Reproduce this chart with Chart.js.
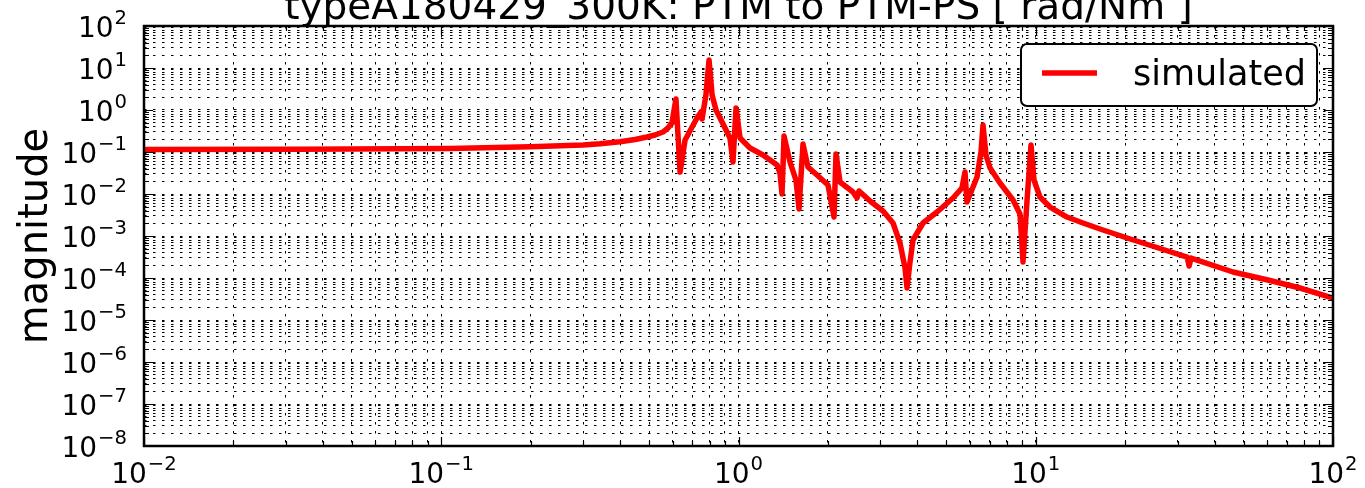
<!DOCTYPE html>
<html>
<head>
<meta charset="utf-8">
<script src="https://cdn.jsdelivr.net/npm/chart.js@4.4.0/dist/chart.umd.min.js"></script>
<style>
  html, body { margin: 0; padding: 0; background: #fff; }
  #wrap { position: relative; width: 1365px; height: 488px; }
</style>
</head>
<body>
<div id="wrap"><canvas id="magChart" width="1365" height="488"></canvas></div>
<script>
// frequency response, PTM -> PTM-PS
const freqs = [
  0.01, 0.0335, 0.107, 0.199, 0.300, 0.342, 0.399, 0.449, 0.492, 0.524,
  0.557, 0.579, 0.597, 0.616, 0.636, 0.661, 0.725, 0.748, 0.754, 0.777,
  0.796, 0.815, 0.840, 0.901, 0.936, 0.958, 0.981, 1.012, 1.093, 1.209,
  1.348, 1.379, 1.401, 1.423, 1.49, 1.561, 1.598, 1.648, 1.713, 1.837,
  2.0, 2.096, 2.128, 2.195, 2.427, 2.504, 2.543, 2.77, 3.063, 3.31,
  3.494, 3.633, 3.689, 3.776, 3.865, 4.176, 4.654, 5.268, 5.647, 5.78,
  5.87, 6.345, 6.544, 6.646, 6.80, 7.02, 7.58, 8.385, 8.85, 9.06,
  9.35, 9.64, 9.865, 10.33, 11.17, 12.74, 14.42, 16.45, 20.3, 26.2,
  32.3, 32.8, 33.3, 46.1, 61.4, 77.4, 100
];
const mags = [
  0.115, 0.116, 0.121, 0.134, 0.147, 0.157, 0.176, 0.199, 0.228, 0.254,
  0.299, 0.373, 0.49, 1.83, 0.0334, 0.193, 0.645, 0.896, 0.611, 2.28,
  15.5, 2.28, 1.0, 0.373, 0.216, 0.0578, 1.12, 0.216, 0.1245, 0.0849,
  0.049, 0.0316, 0.010, 0.240, 0.0578, 0.0215, 0.0044, 0.155, 0.044, 0.0283,
  0.0164, 0.00283, 0.0896, 0.0193, 0.01115, 0.00803, 0.0118, 0.0068, 0.00394, 0.00204,
  0.00068, 0.000173, 5.78e-5, 0.00024, 0.000803, 0.00204, 0.00373, 0.00803, 0.0139, 0.0334,
  0.00645, 0.0254, 0.1, 0.44, 0.0849, 0.0416, 0.0183, 0.0072, 0.00334, 0.00024,
  0.0072, 0.147, 0.0215, 0.0085, 0.0049, 0.00283, 0.00204, 0.00147, 0.000896, 0.000504,
  0.000316, 0.000193, 0.000299, 0.000139, 8.71e-5, 5.78e-5, 3.34e-5
];

// decade exponents used for labelled ticks
const xExps = [-2, -1, 0, 1, 2];
const yExps = [-8, -7, -6, -5, -4, -3, -2, -1, 0, 1, 2];

const titleText = 'typeA180429_300K: PTM to PTM-PS [ rad/Nm ]';
const yTitle = 'magnitude';
const seriesName = 'simulated';

const FONT = '"DejaVu Sans", sans-serif';

// 1..9 x 10^n for every decade, last decade only its 1
function decadeTicks(exps) {
  const out = [];
  exps.forEach((e, i) => {
    const last = i === exps.length - 1;
    for (let d = 1; d <= (last ? 1 : 9); d++) {
      out.push({ value: d * Math.pow(10, e), major: d === 1 });
    }
  });
  return out;
}

function drawPow(ctx, exp, x, y, align) {
  const base = '10';
  const sup = exp < 0 ? '\u2212' + Math.abs(exp) : String(exp);
  ctx.font = '28px ' + FONT;
  const wb = ctx.measureText(base).width;
  ctx.font = '19.6px ' + FONT;
  const ws = ctx.measureText(sup).width;
  const total = wb + ws + 1;
  let left = align === 'center' ? x - total / 2 : x - total;
  ctx.textAlign = 'left';
  ctx.textBaseline = 'alphabetic';
  ctx.font = '28px ' + FONT;
  ctx.fillText(base, left, y);
  ctx.font = '19.6px ' + FONT;
  ctx.fillText(sup, left + wb + 1, y - 13);
}

const decorations = {
  id: 'decorations',
  afterDraw(chart) {
    const { ctx, chartArea: a, scales } = chart;
    const xs = scales.x, ys = scales.y;
    ctx.save();
    ctx.fillStyle = '#000';
    ctx.strokeStyle = '#000';

    // inward ticks on all four sides
    ctx.lineWidth = 1.2;
    ctx.beginPath();
    xs.ticks.forEach(t => {
      const px = Math.round(xs.getPixelForValue(t.value)) + 0.5;
      const len = t.major ? 9 : 5;
      ctx.moveTo(px, a.bottom); ctx.lineTo(px, a.bottom - len);
      ctx.moveTo(px, a.top); ctx.lineTo(px, a.top + len);
    });
    ys.ticks.forEach(t => {
      const py = Math.round(ys.getPixelForValue(t.value)) + 0.5;
      const len = t.major ? 9 : 5;
      ctx.moveTo(a.left, py); ctx.lineTo(a.left + len, py);
      ctx.moveTo(a.right, py); ctx.lineTo(a.right - len, py);
    });
    ctx.stroke();

    // frame
    ctx.lineWidth = 2.5;
    ctx.strokeRect(a.left, a.top, a.right - a.left, a.bottom - a.top);

    // tick labels
    xExps.forEach(e => drawPow(ctx, e, xs.getPixelForValue(Math.pow(10, e)), a.bottom + 37, 'center'));
    yExps.forEach(e => drawPow(ctx, e, a.left - 17, ys.getPixelForValue(Math.pow(10, e)) + 11, 'right'));

    // axis title
    ctx.save();
    ctx.translate(47, (a.top + a.bottom) / 2);
    ctx.rotate(-Math.PI / 2);
    ctx.font = '40px ' + FONT;
    ctx.textAlign = 'center';
    ctx.textBaseline = 'alphabetic';
    ctx.fillText(yTitle, 0, 0);
    ctx.restore();

    // chart title, partly above the canvas edge
    ctx.font = '39px ' + FONT;
    ctx.textAlign = 'center';
    ctx.textBaseline = 'alphabetic';
    ctx.fillText(titleText, (a.left + a.right) / 2, 19);

    // legend box
    const ds = chart.data.datasets[0];
    ctx.beginPath();
    ctx.roundRect(1021, 44, 296, 62, 6);
    ctx.fillStyle = '#fff';
    ctx.fill();
    ctx.lineWidth = 2;
    ctx.strokeStyle = '#000';
    ctx.stroke();
    ctx.beginPath();
    ctx.moveTo(1042, 73); ctx.lineTo(1097, 73);
    ctx.strokeStyle = ds.borderColor;
    ctx.lineWidth = 5.5;
    ctx.stroke();
    ctx.fillStyle = '#000';
    ctx.font = '35px ' + FONT;
    ctx.textAlign = 'left';
    ctx.fillText(ds.label, 1133, 85);
    ctx.restore();
  }
};

new Chart(document.getElementById('magChart'), {
  type: 'line',
  data: {
    datasets: [{
      label: seriesName,
      data: freqs.map((f, i) => ({ x: f, y: mags[i] })),
      borderColor: '#ff0000',
      borderWidth: 5.5,
      borderJoinStyle: 'round',
      borderCapStyle: 'round',
      pointRadius: 0,
      tension: 0,
      fill: false
    }]
  },
  options: {
    responsive: false,
    animation: false,
    devicePixelRatio: 1,
    layout: { padding: { top: 26, right: 32, left: 0, bottom: 0 } },
    plugins: { legend: { display: false }, title: { display: false }, tooltip: { enabled: false } },
    scales: {
      x: {
        type: 'logarithmic',
        min: 0.01, max: 100,
        ticks: { display: false },
        grid: { color: '#000', lineWidth: 1, drawTicks: false },
        border: { display: false, dash: [2.5, 6.5] },
        afterBuildTicks: s => { s.ticks = decadeTicks(xExps); },
        afterFit: s => { s.height = 42; }
      },
      y: {
        type: 'logarithmic',
        min: 1e-8, max: 100,
        ticks: { display: false },
        grid: { color: '#000', lineWidth: 1, drawTicks: false },
        border: { display: false, dash: [2.5, 6.5] },
        afterBuildTicks: s => { s.ticks = decadeTicks(yExps); },
        afterFit: s => { s.width = 144; }
      }
    }
  },
  plugins: [decorations]
});
</script>
</body>
</html>
